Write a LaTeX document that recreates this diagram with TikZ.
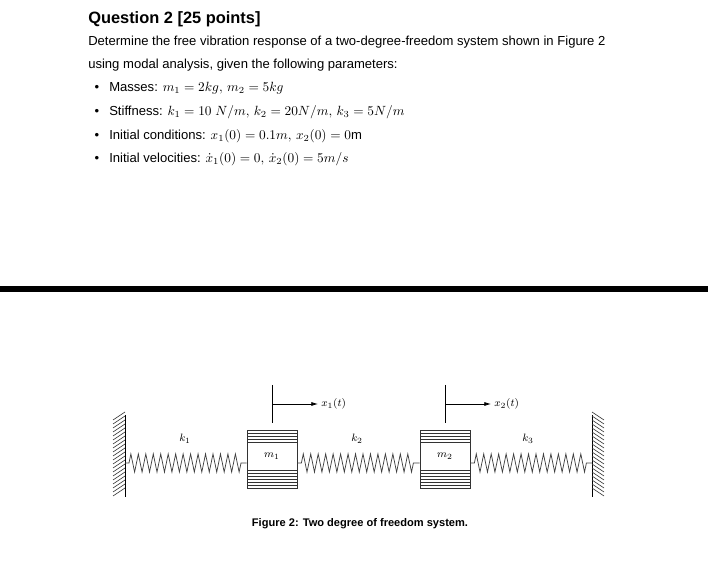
\documentclass[tikz,border=0pt]{standalone}
\usepackage{fontspec}
\setmainfont{Liberation Sans}
\usetikzlibrary{decorations.pathmorphing,arrows.meta,patterns}
\begin{document}
\begin{tikzpicture}[x=0.75pt,y=-0.75pt,
  txt/.style={anchor=base west,inner sep=0,font=\fontsize{9.8}{12}\selectfont},
  bul/.style={anchor=base,inner sep=0,font=\fontsize{9.8}{12}\selectfont},
  spr/.style={decorate,decoration={zigzag,segment length=5.6pt,amplitude=6.8pt,pre length=3pt,post length=3pt},line width=0.55pt,black!75},
  lab/.style={inner sep=0,font=\fontsize{8}{9}\selectfont},
  wallhatch/.style={line width=0.45pt,black!80},
  massbox/.style={draw,line width=0.6pt,black!80,minimum width=37.5pt,minimum height=43.5pt,inner sep=0},
  post/.style={line width=0.6pt},
  arr/.style={-{Latex[length=5pt,width=3pt]},line width=0.5pt}]
\useasboundingbox (0,0) rectangle (708,573);
\node[anchor=base west,inner sep=0,font=\fontsize{12.3}{14}\selectfont\bfseries] (title) at (88,24) {Question 2 [25 points]};
\node[txt] (p1) at (88,46) {Determine the free vibration response of a two-degree-freedom system shown in Figure 2};
\node[txt] (p2) at (88,69) {using modal analysis, given the following parameters:};
\foreach \y/\n in {92/a,116/b,140/c,163/d} \node[bul] (bul\n) at (97,\y) {•};
\node[txt] (l1) at (109,92) {Masses: $m_1=2kg,\,m_2=5kg$};
\node[txt] (l2) at (109,116) {Stiffness: $k_1=10\ N/m,\,k_2=20N/m,\,k_3=5N/m$};
\node[txt] (l3) at (109,140) {Initial conditions: $x_1(0)=0.1m,\,x_2(0)=0$m};
\node[txt] (l4) at (109,163) {Initial velocities: $\dot{x}_1(0)=0,\,\dot{x}_2(0)=5m/s$};
\fill (0,286.5) rectangle (708,292.5);
% walls
\coordinate (wl) at (125,463);
\coordinate (wr) at (592,463);
\draw[line width=0.7pt] (125,415) -- (125,497);
\foreach \i in {0,...,19} \draw[wallhatch] (125,{412+4*\i}) -- (113,{420+4*\i});
\draw[line width=0.7pt] (592,415) -- (592,497);
\foreach \i in {0,...,19} \draw[wallhatch] (592,{412+4*\i}) -- (604,{420+4*\i});
% masses
\node[massbox] (m1) at (272,459) {};
\node[massbox] (m2) at (445,459) {};
\foreach \c in {272,445}{
  \foreach \y in {433.5,436.5,439.5,442.5} \draw[line width=0.4pt,black!80] (\c-25,\y) -- (\c+25,\y);
  \foreach \y in {470,473,476,479,482,485} \draw[line width=0.4pt,black!80] (\c-25,\y) -- (\c+25,\y);
}
\node[lab] at (272,456) {$m_1$};
\node[lab] at (445,456) {$m_2$};
% springs
\draw[spr] (wl) -- (m1.west|-wl);
\draw[spr] (m1.east|-wl) -- (m2.west|-wl);
\draw[spr] (m2.east|-wl) -- (wr);
\node[lab] at (185,439) {$k_1$};
\node[lab] at (357,439) {$k_2$};
\node[lab] at (528,439) {$k_3$};
% posts and arrows
\draw[post] (272,385) -- (272,423);
\draw[post] (445,385) -- (445,423);
\coordinate (a1) at (318,404);
\coordinate (a2) at (491,404);
\draw[arr] (272,404) -- (a1);
\draw[arr] (445,404) -- (a2);
\node[lab,anchor=west] at (321,404) {$x_1(t)$};
\node[lab,anchor=west] at (494,404) {$x_2(t)$};
\node[anchor=base,inner sep=0,font=\fontsize{8.3}{10}\selectfont\bfseries] (cap) at (360,527) {Figure 2: Two degree of freedom system.};
\end{tikzpicture}
\end{document}
